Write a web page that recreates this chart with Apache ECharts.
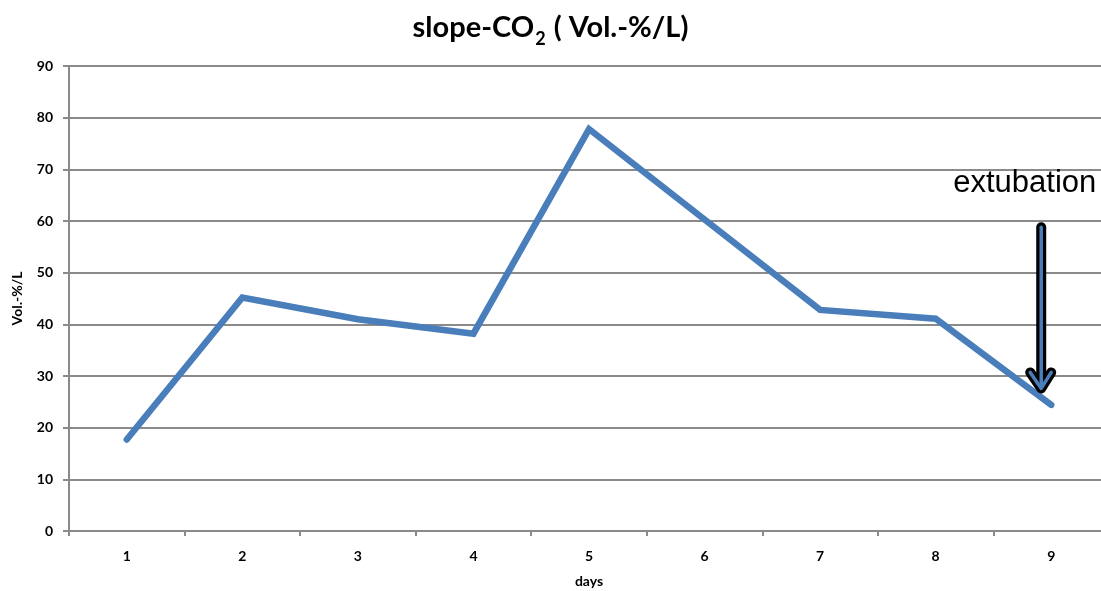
<!DOCTYPE html>
<html>
<head>
<meta charset="utf-8">
<script src="https://cdn.jsdelivr.net/npm/echarts@6/dist/echarts.min.js"></script>
<style>
  html, body { margin: 0; padding: 0; background: #fff; overflow: hidden; }
  #chart { width: 1101px; height: 591px; }
</style>
</head>
<body>
<div id="chart"></div>
<script>
// slope-CO2 per day
const days = ['1', '2', '3', '4', '5', '6', '7', '8', '9'];
const slopeCO2 = [17.7, 45.2, 41.0, 38.2, 77.8, 60.3, 42.8, 41.1, 24.4];
const yTicks = { min: 0, max: 90, interval: 10 };

// extubation marker: day index and value range of the arrow
const extubationDay = 8;
const arrowFrom = 58.8;
const arrowTo = 27.6;
const extubationText = 'extubation';

const lineBlue = '#4a7ebb';
const gridGray = '#8a8a8a';
const boldFont = 'Lato, "Open Sans", sans-serif';

const chart = echarts.init(document.getElementById('chart'), null, { renderer: 'canvas' });

chart.setOption({
  animation: false,
  backgroundColor: '#ffffff',
  title: {
    text: '{a|slope-CO}{s|2}{a| ( Vol.-%/L)}',
    left: 'center',
    top: 8,
    textStyle: {
      rich: {
        a: { fontFamily: boldFont, fontWeight: 'bold', fontSize: 29, color: '#000', verticalAlign: 'bottom', padding: [0, 0, 6, 0] },
        s: { fontFamily: boldFont, fontWeight: 'bold', fontSize: 18, color: '#000', verticalAlign: 'bottom', padding: [0, 1, 0, 1] }
      }
    }
  },
  grid: { left: 69, top: 66, width: 1040, height: 465, containLabel: false, outerBoundsMode: 'none' },
  xAxis: {
    type: 'category',
    data: days,
    boundaryGap: true,
    name: 'days',
    nameLocation: 'middle',
    nameGap: 43,
    nameTextStyle: { fontFamily: boldFont, fontWeight: 'bold', fontSize: 14, color: '#000' },
    axisLine: { show: true, lineStyle: { color: gridGray, width: 2 } },
    axisTick: { show: true, alignWithLabel: false, length: 5, lineStyle: { color: gridGray, width: 2 } },
    axisLabel: { margin: 18, fontFamily: boldFont, fontWeight: 'bold', fontSize: 14, color: '#000' },
    splitLine: { show: false }
  },
  yAxis: {
    type: 'value',
    min: yTicks.min,
    max: yTicks.max,
    interval: yTicks.interval,
    name: 'Vol.-%/L',
    nameLocation: 'middle',
    nameGap: 45,
    nameRotate: 90,
    nameTextStyle: { fontFamily: boldFont, fontWeight: 'bold', fontSize: 14, color: '#000' },
    axisLine: { show: true, lineStyle: { color: gridGray, width: 2 } },
    axisTick: { show: true, length: 6, lineStyle: { color: gridGray, width: 2 } },
    axisLabel: { margin: 16, fontFamily: boldFont, fontWeight: 'bold', fontSize: 14, color: '#000' },
    splitLine: { show: true, lineStyle: { color: gridGray, width: 2 } }
  },
  series: [{
    type: 'line',
    data: slopeCO2,
    symbol: 'none',
    lineStyle: { color: lineBlue, width: 6.5, cap: 'round', join: 'miter' }
  }]
});

// Extubation arrow, placed from data values through the chart's scales
function drawArrow() {
  const top = chart.convertToPixel({ gridIndex: 0 }, [extubationDay, arrowFrom]);
  const tip = chart.convertToPixel({ gridIndex: 0 }, [extubationDay, arrowTo]);
  const x = top[0] - 10;
  const y0 = top[1];
  const y1 = tip[1];
  const head = [[x - 11, y1 - 16], [x, y1], [x + 10, y1 - 16]];
  chart.setOption({
    graphic: [
      { type: 'line', shape: { x1: x, y1: y0, x2: x, y2: y1 - 2 }, style: { stroke: '#000', lineWidth: 10, lineCap: 'round' }, z: 100 },
      { type: 'polyline', shape: { points: head }, style: { stroke: '#000', lineWidth: 10, lineCap: 'round', lineJoin: 'round', fill: null }, z: 100 },
      { type: 'line', shape: { x1: x, y1: y0, x2: x, y2: y1 - 3 }, style: { stroke: lineBlue, lineWidth: 3.5, lineCap: 'round' }, z: 101 },
      { type: 'polyline', shape: { points: head }, style: { stroke: lineBlue, lineWidth: 3.5, lineCap: 'round', lineJoin: 'round', fill: null }, z: 101 },
      {
        type: 'text',
        left: x - 88,
        top: y0 - 59,
        style: { text: extubationText, fontFamily: '"Liberation Sans", Arial, sans-serif', fontSize: 31, fill: '#000' },
        z: 101
      }
    ]
  });
}
drawArrow();
</script>
</body>
</html>
